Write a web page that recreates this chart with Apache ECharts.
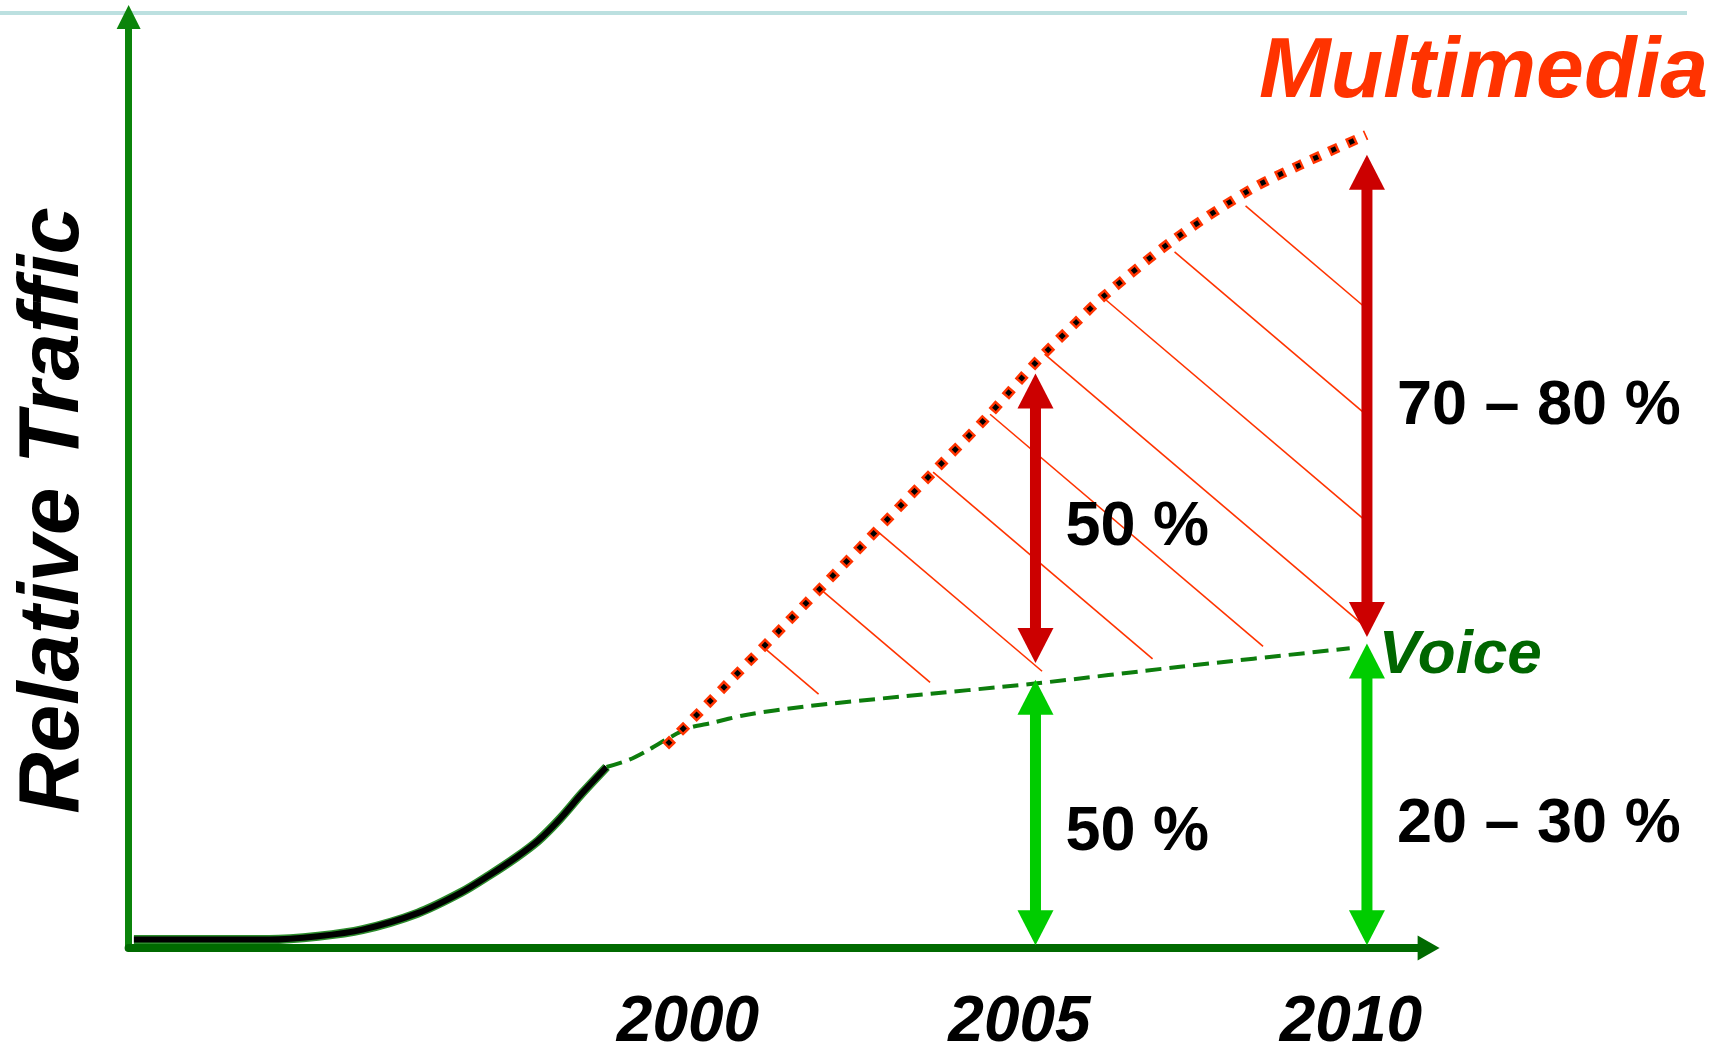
<!DOCTYPE html>
<html>
<head>
<meta charset="utf-8">
<script src="https://cdn.jsdelivr.net/npm/echarts@6/dist/echarts.min.js"></script>
<style>
html,body{margin:0;padding:0;background:#ffffff;}
#chart{width:1723px;height:1047px;}
</style>
</head>
<body>
<div id="chart"></div>
<script>
// ---------- data ----------
const tickYears = [2000, 2005, 2010];

const historyYears  = [1991.40, 1993.44, 1994.18, 1994.85, 1995.68, 1996.34, 1996.75, 1997.17, 1997.50, 1997.83, 1998.16, 1998.53];
const historyValues = [0.90, 0.90, 1.26, 1.97, 3.74, 5.98, 7.76, 9.75, 11.54, 13.89, 16.61, 19.44];

const voiceYears  = [1998.53, 1998.86, 1999.16, 1999.47, 1999.77, 2000.11, 2000.63, 2001.50, 2002.95, 2005.02, 2007.18, 2009.74];
const voiceValues = [19.44, 20.19, 21.27, 22.56, 23.63, 24.17, 25.03, 25.92, 26.99, 28.43, 30.21, 32.19];

const mediaYears  = [1999.42, 1999.74, 2001.85, 2003.53, 2004.24, 2005.04, 2005.62, 2006.02, 2007.08, 2008.23, 2008.99, 2009.99];
const mediaValues = [21.70, 23.95, 39.31, 51.66, 56.82, 63.16, 67.24, 69.96, 76.05, 81.42, 84.10, 87.33];

const arrowYears   = [2005, 2005, 2010, 2010];
const arrowKinds   = ['media', 'voice', 'media', 'voice'];
const arrowFrom    = [30.6, 0.3, 33.4, 0.3];
const arrowTo      = [61.7, 28.8, 85.2, 32.7];
const arrowLabels  = ['50 %', '50 %', '70 \u2013 80 %', '20 \u2013 30 %'];
const arrowLabelAt = [45.2, 12.4, 58.1, 13.2];

const seriesNames = { media: 'Multimedia', voice: 'Voice' };
const axisTitle = 'Relative Traffic';

// ---------- styles ----------
const FONT = '"Liberation Sans", Arial, sans-serif';
const ARROW_COLORS = { media: '#cc0000', voice: '#00cc00' };
const SHAFT = 11, HEAD_W = 36, HEAD_LEN = 35, LABEL_DX = 30;
const HATCH_SLOPE = 0.85, HATCH_C0 = -1.7, HATCH_STEP = 106.4, HATCH_LINES = 9;
const HATCH_BOTTOM_GAP = 11;

function interp(pts, x) {
  if (x <= pts[0][0]) return pts[0][1];
  for (let i = 1; i < pts.length; i++) {
    if (x <= pts[i][0]) {
      const a = pts[i - 1], b = pts[i];
      const t = (x - a[0]) / (b[0] - a[0]);
      return a[1] + t * (b[1] - a[1]);
    }
  }
  return pts[pts.length - 1][1];
}
function topGap(x) {
  const t = Math.max(0, Math.min(1, (x - 1100) / 80));
  return 13 * t;
}

const zip = (xs, ys) => xs.map((x, i) => [x, ys[i]]);

const chart = echarts.init(document.getElementById('chart'), null, { renderer: 'canvas' });

const option = {
  animation: false,
  backgroundColor: '#ffffff',
  grid: { left: 128.6, right: 294.4, top: 17, bottom: 99, containLabel: false, outerBoundsMode: 'none' },
  xAxis: {
    type: 'value',
    min: 1991.32,
    max: 2010.93,
    splitLine: { show: false },
    axisTick: { show: false },
    axisLine: {
      show: true,
      symbol: ['none', 'triangle'],
      symbolSize: [25, 22],
      lineStyle: { color: '#006a00', width: 8 }
    },
    axisLabel: {
      customValues: tickYears,
      margin: 43,
      padding: [0, 32, 0, 0],
      formatter: v => String(Math.round(v)),
      color: '#000000',
      fontSize: 64,
      fontWeight: 'bold',
      fontStyle: 'italic',
      fontFamily: FONT
    }
  },
  yAxis: {
    type: 'value',
    min: 0,
    max: 100,
    name: axisTitle,
    nameLocation: 'middle',
    nameRotate: 90,
    nameGap: 32,
    nameTextStyle: { color: '#000000', fontSize: 85, fontWeight: 'bold', fontStyle: 'italic', fontFamily: FONT, padding: [0, 56, 0, 0] },
    splitLine: { show: false },
    axisTick: { show: false },
    axisLabel: { show: false },
    axisLine: {
      show: true,
      symbol: ['none', 'triangle'],
      symbolSize: [24, 24],
      lineStyle: { color: '#0b840b', width: 7 }
    }
  },
  graphic: [
    { type: 'line', shape: { x1: 0, y1: 13, x2: 1687, y2: 13 }, style: { stroke: '#bce0e0', lineWidth: 4 }, z: 0 },
    { type: 'text', left: 1259, top: 30, style: { text: seriesNames.media, fill: '#ff3300', font: 'italic bold 86px ' + FONT }, z: 10 }
  ],
  series: [
    {
      name: 'hatch',
      type: 'custom',
      coordinateSystem: 'cartesian2d',
      silent: true,
      clip: false,
      z: 1,
      data: [[mediaYears[0], mediaValues[0]]],
      renderItem: function (params, api) {
        const top = mediaYears.map((yr, i) => api.coord([yr, mediaValues[i]]));
        const xL = top[0][0], xR = top[top.length - 1][0];
        const bottom = voiceYears.map((yr, i) => api.coord([yr, voiceValues[i]]))
          .map(p => [p[0], p[1] - HATCH_BOTTOM_GAP]);
        const n = bottom.length, a = bottom[n - 2], b = bottom[n - 1];
        if (b[0] < xR) bottom.push([xR, b[1] + (b[1] - a[1]) / (b[0] - a[0]) * (xR - b[0])]);
        const children = [];
        for (let k = 0; k > -HATCH_LINES; k--) {
          const c = HATCH_C0 + k * HATCH_STEP;
          let x0 = null, x1 = null;
          for (let x = xL; x <= xR; x += 0.5) {
            const y = HATCH_SLOPE * x + c;
            if (y >= interp(top, x) + topGap(x) && y <= interp(bottom, x)) {
              if (x0 === null) x0 = x;
              x1 = x;
            }
          }
          if (x0 !== null && x1 - x0 > 12) {
            children.push({
              type: 'line',
              shape: { x1: x0, y1: HATCH_SLOPE * x0 + c, x2: x1, y2: HATCH_SLOPE * x1 + c },
              style: { stroke: '#ff3300', lineWidth: 1.6 }
            });
          }
        }
        return { type: 'group', children: children };
      }
    },
    {
      name: 'history-outline',
      type: 'line',
      z: 2,
      silent: true,
      smooth: 0.3,
      showSymbol: false,
      data: zip(historyYears, historyValues),
      lineStyle: { color: '#2c8c2c', width: 9 }
    },
    {
      name: 'history',
      type: 'line',
      z: 3,
      silent: true,
      smooth: 0.3,
      showSymbol: false,
      data: zip(historyYears, historyValues),
      lineStyle: { color: '#000000', width: 6 }
    },
    {
      name: seriesNames.voice,
      type: 'line',
      z: 3,
      silent: true,
      smooth: 0.3,
      showSymbol: false,
      data: zip(voiceYears, voiceValues),
      lineStyle: { color: '#0d7d0d', width: 4, type: [16, 8] },
      endLabel: {
        show: true,
        formatter: seriesNames.voice,
        distance: 29,
        offset: [0, 8],
        color: '#006600',
        fontSize: 62,
        fontWeight: 'bold',
        fontStyle: 'italic',
        fontFamily: FONT
      }
    },
    {
      name: seriesNames.media + '-outer',
      type: 'line',
      z: 4,
      silent: true,
      smooth: 0.3,
      showSymbol: false,
      data: zip(mediaYears, mediaValues),
      lineStyle: { color: '#ff3300', width: 10, type: [10, 9.5] }
    },
    {
      name: seriesNames.media,
      type: 'line',
      z: 5,
      silent: true,
      smooth: 0.3,
      showSymbol: false,
      data: zip(mediaYears, mediaValues),
      lineStyle: { color: '#000000', width: 5, type: [5, 14.5], dashOffset: -2.5 }
    },
    {
      name: 'shares',
      type: 'custom',
      coordinateSystem: 'cartesian2d',
      silent: true,
      clip: false,
      z: 6,
      encode: { x: 0, y: [1, 2] },
      data: arrowYears.map((yr, i) => [yr, arrowFrom[i], arrowTo[i], arrowLabelAt[i]]),
      renderItem: function (params, api) {
        const x = api.value(0);
        const pB = api.coord([x, api.value(1)]);
        const pT = api.coord([x, api.value(2)]);
        const pL = api.coord([x, api.value(3)]);
        const col = ARROW_COLORS[arrowKinds[params.dataIndex]];
        const cx = pB[0];
        return {
          type: 'group',
          children: [
            { type: 'rect', shape: { x: cx - SHAFT / 2, y: pT[1] + HEAD_LEN - 1, width: SHAFT, height: pB[1] - pT[1] - 2 * HEAD_LEN + 2 }, style: { fill: col } },
            { type: 'polygon', shape: { points: [[cx, pT[1]], [cx - HEAD_W / 2, pT[1] + HEAD_LEN], [cx + HEAD_W / 2, pT[1] + HEAD_LEN]] }, style: { fill: col } },
            { type: 'polygon', shape: { points: [[cx, pB[1]], [cx - HEAD_W / 2, pB[1] - HEAD_LEN], [cx + HEAD_W / 2, pB[1] - HEAD_LEN]] }, style: { fill: col } },
            { type: 'text', x: cx + LABEL_DX, y: pL[1], style: { text: arrowLabels[params.dataIndex], fill: '#000000', font: 'bold 63px ' + FONT, align: 'left', verticalAlign: 'middle' } }
          ]
        };
      }
    }
  ]
};

chart.setOption(option);
</script>
</body>
</html>
